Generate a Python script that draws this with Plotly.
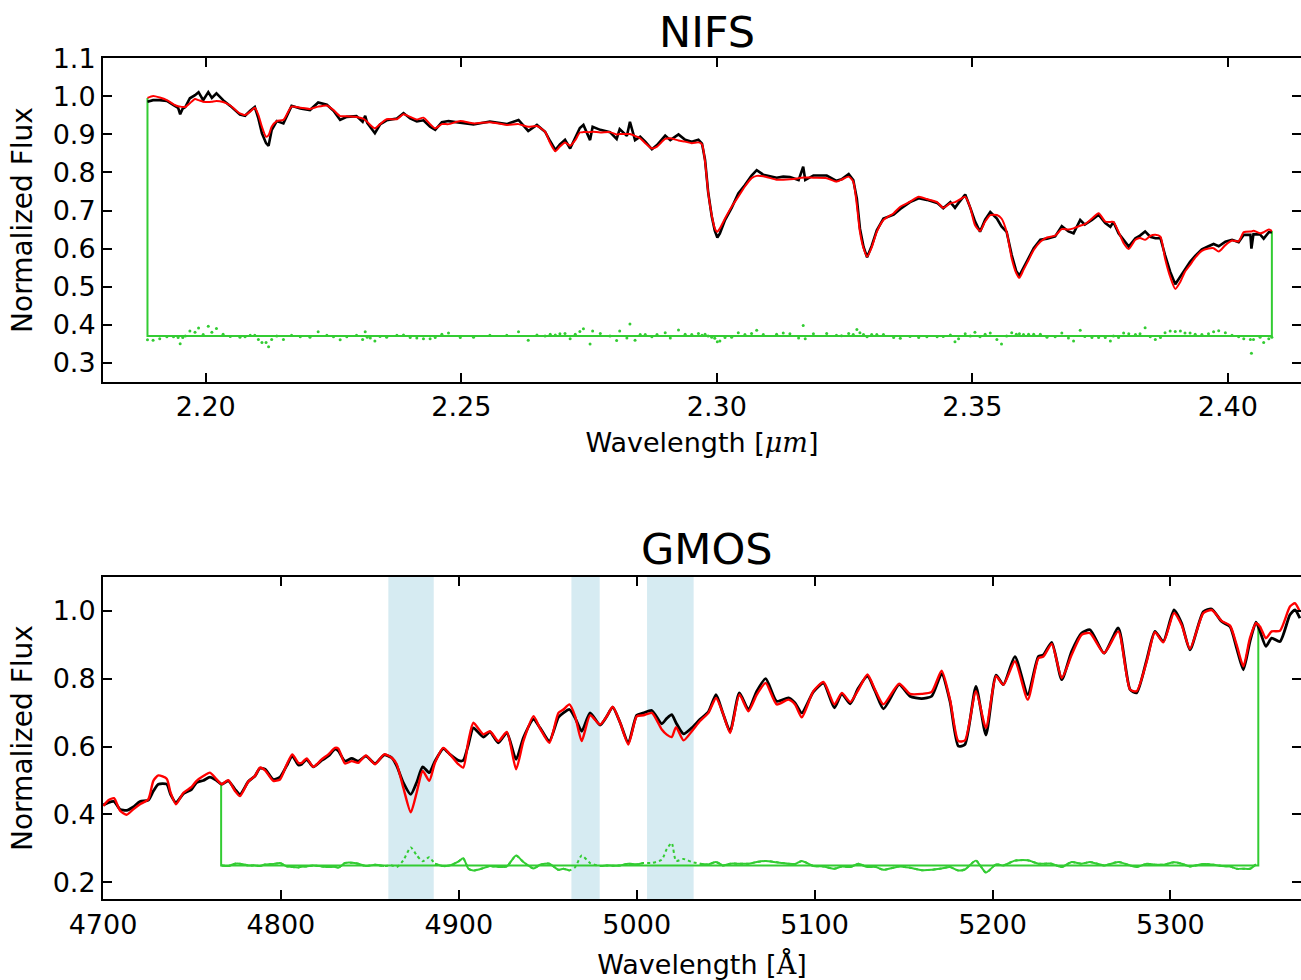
import plotly.graph_objects as go

# ---------------- NIFS (top) ----------------
nifs_wave = [2.1886, 2.1897, 2.1910, 2.1924, 2.1937, 2.1946, 2.1950, 2.1955, 2.1960, 2.1969,
             2.1979, 2.1986, 2.1995, 2.2005, 2.2012, 2.2021, 2.2034, 2.2048, 2.2067, 2.2077,
             2.2087, 2.2096, 2.2103, 2.2110, 2.2118, 2.2123, 2.2129, 2.2139, 2.2152, 2.2168,
             2.2185, 2.2204, 2.2220, 2.2237, 2.2250, 2.2263, 2.2276, 2.2295, 2.2307, 2.2312,
             2.2316, 2.2322, 2.2331, 2.2341, 2.2354, 2.2374, 2.2387, 2.2400, 2.2413, 2.2426,
             2.2439, 2.2449, 2.2462, 2.2475, 2.2498, 2.2524, 2.2556, 2.2589, 2.2612, 2.2631,
             2.2648, 2.2664, 2.2674, 2.2684, 2.2693, 2.2703, 2.2713, 2.2723, 2.2732, 2.2739,
             2.2752, 2.2757, 2.2772, 2.2791, 2.2804, 2.2810, 2.2824, 2.2830, 2.2840, 2.2850,
             2.2860, 2.2873, 2.2883, 2.2899, 2.2909, 2.2925, 2.2938, 2.2951, 2.2964, 2.2971,
             2.2977, 2.2983, 2.2990, 2.2996, 2.3001, 2.3006, 2.3016, 2.3029, 2.3042, 2.3055,
             2.3068, 2.3078, 2.3091, 2.3117, 2.3130, 2.3143, 2.3160, 2.3169, 2.3173, 2.3189,
             2.3215, 2.3234, 2.3244, 2.3258, 2.3267, 2.3274, 2.3280, 2.3287, 2.3294, 2.3303,
             2.3313, 2.3326, 2.3346, 2.3359, 2.3378, 2.3395, 2.3411, 2.3431, 2.3443, 2.3457,
             2.3466, 2.3473, 2.3486, 2.3496, 2.3505, 2.3515, 2.3525, 2.3535, 2.3548, 2.3557,
             2.3567, 2.3577, 2.3586, 2.3592, 2.3600, 2.3610, 2.3620, 2.3633, 2.3646, 2.3662,
             2.3675, 2.3688, 2.3698, 2.3711, 2.3720, 2.3734, 2.3747, 2.3760, 2.3770, 2.3776,
             2.3786, 2.3796, 2.3806, 2.3819, 2.3828, 2.3838, 2.3848, 2.3858, 2.3868, 2.3877,
             2.3887, 2.3897, 2.3907, 2.3916, 2.3926, 2.3936, 2.3949, 2.3962, 2.3972, 2.3982,
             2.3995, 2.4008, 2.4021, 2.4031, 2.4044, 2.4046, 2.4050, 2.4063, 2.4070, 2.4080,
             2.4086]
nifs_obs = [0.986, 0.990, 0.990, 0.988, 0.977, 0.970, 0.953, 0.968, 0.972, 0.995,
            1.003, 1.011, 0.990, 1.011, 0.996, 1.008, 0.990, 0.975, 0.952, 0.949,
            0.962, 0.972, 0.942, 0.903, 0.877, 0.870, 0.911, 0.935, 0.929, 0.975,
            0.968, 0.964, 0.984, 0.978, 0.962, 0.938, 0.946, 0.948, 0.933, 0.949,
            0.930, 0.920, 0.903, 0.926, 0.937, 0.942, 0.956, 0.942, 0.934, 0.937,
            0.920, 0.912, 0.932, 0.935, 0.931, 0.926, 0.934, 0.927, 0.938, 0.909,
            0.925, 0.907, 0.882, 0.859, 0.874, 0.886, 0.863, 0.890, 0.917, 0.925,
            0.885, 0.920, 0.912, 0.906, 0.888, 0.914, 0.896, 0.933, 0.885, 0.894,
            0.881, 0.861, 0.872, 0.897, 0.885, 0.900, 0.886, 0.881, 0.886, 0.876,
            0.833, 0.749, 0.685, 0.647, 0.629, 0.640, 0.675, 0.707, 0.745, 0.767,
            0.792, 0.806, 0.794, 0.786, 0.789, 0.788, 0.780, 0.815, 0.780, 0.792,
            0.792, 0.778, 0.782, 0.796, 0.780, 0.731, 0.653, 0.605, 0.577, 0.607,
            0.648, 0.679, 0.689, 0.704, 0.722, 0.732, 0.728, 0.720, 0.706, 0.722,
            0.707, 0.720, 0.742, 0.707, 0.672, 0.644, 0.676, 0.696, 0.679, 0.658,
            0.644, 0.583, 0.540, 0.529, 0.548, 0.575, 0.601, 0.623, 0.626, 0.632,
            0.659, 0.645, 0.640, 0.675, 0.663, 0.675, 0.689, 0.667, 0.657, 0.670,
            0.640, 0.622, 0.605, 0.627, 0.634, 0.645, 0.631, 0.627, 0.627, 0.583,
            0.539, 0.506, 0.526, 0.547, 0.565, 0.581, 0.598, 0.606, 0.612, 0.606,
            0.618, 0.623, 0.617, 0.636, 0.636, 0.600, 0.638, 0.637, 0.626, 0.643,
            0.643]
nifs_model = [0.996, 1.001, 0.997, 0.990, 0.979, 0.974, 0.973, 0.972, 0.972, 0.982,
              0.993, 0.990, 0.986, 0.985, 0.986, 0.988, 0.985, 0.976, 0.955, 0.951,
              0.960, 0.970, 0.951, 0.920, 0.894, 0.898, 0.920, 0.935, 0.938, 0.973,
              0.970, 0.967, 0.973, 0.976, 0.964, 0.948, 0.948, 0.946, 0.942, 0.938,
              0.933, 0.925, 0.916, 0.927, 0.940, 0.940, 0.953, 0.946, 0.939, 0.944,
              0.927, 0.916, 0.927, 0.927, 0.935, 0.929, 0.932, 0.925, 0.927, 0.920,
              0.922, 0.907, 0.877, 0.856, 0.868, 0.879, 0.870, 0.885, 0.905, 0.906,
              0.906, 0.907, 0.905, 0.906, 0.900, 0.901, 0.901, 0.901, 0.896, 0.890,
              0.877, 0.863, 0.868, 0.888, 0.890, 0.884, 0.881, 0.877, 0.879, 0.874,
              0.828, 0.749, 0.688, 0.653, 0.644, 0.653, 0.679, 0.710, 0.736, 0.763,
              0.785, 0.791, 0.790, 0.781, 0.781, 0.782, 0.785, 0.787, 0.787, 0.786,
              0.785, 0.776, 0.781, 0.789, 0.776, 0.714, 0.644, 0.601, 0.579, 0.603,
              0.644, 0.675, 0.693, 0.710, 0.723, 0.736, 0.730, 0.722, 0.707, 0.719,
              0.722, 0.727, 0.736, 0.707, 0.662, 0.646, 0.671, 0.688, 0.688, 0.679,
              0.644, 0.574, 0.535, 0.523, 0.544, 0.570, 0.596, 0.618, 0.629, 0.634,
              0.651, 0.650, 0.653, 0.660, 0.664, 0.679, 0.693, 0.671, 0.670, 0.670,
              0.644, 0.614, 0.599, 0.623, 0.628, 0.623, 0.633, 0.636, 0.631, 0.574,
              0.526, 0.494, 0.513, 0.539, 0.557, 0.576, 0.594, 0.600, 0.601, 0.592,
              0.609, 0.621, 0.619, 0.643, 0.645, 0.645, 0.647, 0.640, 0.643, 0.650,
              0.646]
nifs_offset = 0.37
nifs_box_x = [2.1886, 2.1886, 2.4086, 2.4086]
nifs_box_y = [0.996, 0.37, 0.37, 0.646]
nifs_xticks = [2.20, 2.25, 2.30, 2.35, 2.40]
nifs_yticks = [0.3, 0.4, 0.5, 0.6, 0.7, 0.8, 0.9, 1.0, 1.1]

# ---------------- GMOS (bottom) ----------------
gmos_wave = [4700.2, 4703.0, 4706.2, 4709.6, 4713.3, 4717.0, 4720.8, 4725.5, 4728.3, 4731.1,
             4735.8, 4738.0, 4741.0, 4745.2, 4749.8, 4752.6, 4756.4, 4760.1, 4763.9, 4766.7,
             4770.4, 4774.2, 4777.0, 4781.7, 4785.4, 4788.2, 4791.1, 4795.7, 4799.5, 4803.2,
             4806.4, 4809.8, 4811.7, 4814.5, 4818.2, 4822.9, 4826.7, 4830.4, 4832.3, 4836.0,
             4839.8, 4843.5, 4847.8, 4852.9, 4858.0, 4862.3, 4865.1, 4868.8, 4873.0, 4876.3,
             4879.7, 4883.4, 4886.6, 4891.3, 4895.0, 4899.7, 4902.5, 4905.4, 4908.2, 4913.8,
             4917.5, 4922.2, 4927.0, 4932.2, 4936.3, 4942.0, 4945.7, 4950.9, 4956.0, 4958.8,
             4962.2, 4965.4, 4969.1, 4973.8, 4979.4, 4983.2, 4986.5, 4990.7, 4995.3, 5000.0,
             5003.8, 5008.5, 5014.1, 5016.9, 5019.7, 5022.1, 5026.3, 5031.0, 5035.6, 5040.3,
             5044.6, 5048.4, 5052.5, 5057.7, 5062.8, 5067.5, 5072.5, 5078.7, 5085.3, 5089.0,
             5092.8, 5099.3, 5105.0, 5111.1, 5115.3, 5120.0, 5124.6, 5129.7, 5134.0, 5138.7,
             5147.5, 5153.6, 5160.2, 5165.8, 5171.4, 5176.1, 5180.8, 5184.5, 5190.7, 5196.3,
             5202.0, 5206.1, 5212.6, 5219.8, 5225.8, 5228.6, 5233.3, 5238.9, 5244.5, 5250.1,
             5254.8, 5262.7, 5270.7, 5277.3, 5281.0, 5286.7, 5291.3, 5296.0, 5302.0, 5306.3,
             5311.0, 5318.5, 5323.2, 5328.8, 5333.5, 5337.2, 5341.0, 5344.7, 5348.1, 5350.4,
             5353.7, 5356.9, 5361.6, 5367.2, 5370.0, 5372.8]
gmos_obs = [0.428, 0.435, 0.438, 0.415, 0.412, 0.422, 0.438, 0.442, 0.469, 0.489,
            0.489, 0.459, 0.435, 0.461, 0.474, 0.494, 0.500, 0.510, 0.500, 0.489,
            0.499, 0.474, 0.459, 0.497, 0.513, 0.536, 0.533, 0.503, 0.510, 0.543,
            0.572, 0.546, 0.548, 0.562, 0.540, 0.559, 0.572, 0.592, 0.587, 0.557,
            0.565, 0.557, 0.572, 0.550, 0.575, 0.567, 0.543, 0.494, 0.459, 0.494,
            0.540, 0.523, 0.557, 0.594, 0.577, 0.559, 0.559, 0.606, 0.655, 0.628,
            0.643, 0.611, 0.640, 0.562, 0.626, 0.680, 0.655, 0.616, 0.686, 0.699,
            0.709, 0.684, 0.645, 0.699, 0.663, 0.689, 0.716, 0.670, 0.611, 0.692,
            0.699, 0.706, 0.667, 0.683, 0.694, 0.670, 0.637, 0.655, 0.680, 0.702,
            0.753, 0.699, 0.645, 0.758, 0.709, 0.763, 0.800, 0.733, 0.743, 0.728,
            0.699, 0.761, 0.787, 0.714, 0.755, 0.726, 0.772, 0.807, 0.763, 0.711,
            0.782, 0.748, 0.741, 0.748, 0.814, 0.733, 0.601, 0.606, 0.777, 0.634,
            0.810, 0.782, 0.865, 0.753, 0.865, 0.870, 0.907, 0.797, 0.880, 0.934,
            0.944, 0.875, 0.949, 0.768, 0.758, 0.856, 0.939, 0.909, 1.002, 0.963,
            0.885, 0.997, 1.005, 0.968, 0.953, 0.890, 0.826, 0.909, 0.966, 0.939,
            0.895, 0.919, 0.909, 0.988, 1.002, 0.978]
gmos_model = [0.425, 0.442, 0.448, 0.411, 0.399, 0.415, 0.430, 0.445, 0.499, 0.515,
              0.505, 0.464, 0.430, 0.464, 0.481, 0.499, 0.513, 0.523, 0.503, 0.489,
              0.501, 0.469, 0.454, 0.497, 0.513, 0.538, 0.530, 0.499, 0.503, 0.546,
              0.577, 0.552, 0.552, 0.565, 0.540, 0.562, 0.577, 0.596, 0.594, 0.550,
              0.557, 0.552, 0.574, 0.548, 0.577, 0.567, 0.548, 0.479, 0.406, 0.464,
              0.528, 0.499, 0.552, 0.596, 0.577, 0.548, 0.538, 0.616, 0.670, 0.636,
              0.645, 0.616, 0.643, 0.533, 0.616, 0.689, 0.653, 0.611, 0.699, 0.709,
              0.724, 0.689, 0.616, 0.692, 0.665, 0.689, 0.717, 0.670, 0.606, 0.689,
              0.692, 0.699, 0.650, 0.635, 0.628, 0.657, 0.618, 0.645, 0.675, 0.699,
              0.743, 0.699, 0.640, 0.753, 0.704, 0.753, 0.787, 0.724, 0.738, 0.724,
              0.686, 0.763, 0.790, 0.724, 0.758, 0.731, 0.767, 0.812, 0.767, 0.724,
              0.785, 0.755, 0.755, 0.761, 0.823, 0.738, 0.616, 0.618, 0.763, 0.655,
              0.807, 0.782, 0.851, 0.738, 0.860, 0.865, 0.902, 0.802, 0.870, 0.929,
              0.934, 0.875, 0.939, 0.768, 0.763, 0.851, 0.937, 0.907, 0.993, 0.958,
              0.888, 0.993, 1.002, 0.970, 0.956, 0.900, 0.836, 0.919, 0.963, 0.953,
              0.919, 0.939, 0.941, 1.012, 1.022, 0.997]
gmos_offset = 0.25
gmos_fit_range = [4766.4, 5349.4]
gmos_box_x = [4766.4, 4766.4, 5349.4, 5349.4]
gmos_box_y = [0.489, 0.25, 0.25, 0.963]
gmos_mask_lo = [4860.4, 4963.3, 5005.8]
gmos_mask_hi = [4885.9, 4979.2, 5032.0]
gmos_xticks = [4700, 4800, 4900, 5000, 5100, 5200, 5300]
gmos_yticks = [0.2, 0.4, 0.6, 0.8, 1.0]

# ---------------- derived residuals ----------------
nifs_res = [o - m + nifs_offset for o, m in zip(nifs_obs, nifs_model)]

g_res_wave, g_res_solid, g_res_all = [], [], []
for w, o, m in zip(gmos_wave, gmos_obs, gmos_model):
    if gmos_fit_range[0] <= w <= gmos_fit_range[1]:
        r = o - m + gmos_offset
        masked = any(lo <= w <= hi for lo, hi in zip(gmos_mask_lo, gmos_mask_hi))
        g_res_wave.append(w)
        g_res_all.append(r)
        g_res_solid.append(None if masked else r)

GREEN = "#33cc33"
FONT = "DejaVu Sans"

fig = go.Figure()

# top
fig.add_trace(go.Scatter(x=nifs_box_x, y=nifs_box_y, mode="lines",
                         line=dict(color=GREEN, width=2), xaxis="x", yaxis="y", showlegend=False))
fig.add_trace(go.Scatter(x=nifs_wave, y=nifs_res, mode="markers",
                         marker=dict(color=GREEN, size=3), xaxis="x", yaxis="y", showlegend=False))
fig.add_trace(go.Scatter(x=nifs_wave, y=nifs_obs, mode="lines",
                         line=dict(color="black", width=2.6), xaxis="x", yaxis="y", showlegend=False))
fig.add_trace(go.Scatter(x=nifs_wave, y=nifs_model, mode="lines", line_shape="spline",
                         line=dict(color="red", width=2, smoothing=0.6), xaxis="x", yaxis="y",
                         showlegend=False))

# bottom
fig.add_trace(go.Scatter(x=gmos_box_x, y=gmos_box_y, mode="lines",
                         line=dict(color=GREEN, width=2), xaxis="x2", yaxis="y2", showlegend=False))
fig.add_trace(go.Scatter(x=g_res_wave, y=g_res_all, mode="lines", line_shape="spline",
                         line=dict(color=GREEN, width=2, dash="dot", smoothing=0.6),
                         xaxis="x2", yaxis="y2", showlegend=False))
fig.add_trace(go.Scatter(x=g_res_wave, y=g_res_solid, mode="lines", line_shape="spline",
                         line=dict(color=GREEN, width=2, smoothing=0.6),
                         xaxis="x2", yaxis="y2", showlegend=False))
fig.add_trace(go.Scatter(x=gmos_wave, y=gmos_obs, mode="lines", line_shape="spline",
                         line=dict(color="black", width=2.8, smoothing=0.6),
                         xaxis="x2", yaxis="y2", showlegend=False))
fig.add_trace(go.Scatter(x=gmos_wave, y=gmos_model, mode="lines", line_shape="spline",
                         line=dict(color="red", width=2.4, smoothing=0.6),
                         xaxis="x2", yaxis="y2", showlegend=False))

for lo, hi in zip(gmos_mask_lo, gmos_mask_hi):
    fig.add_shape(type="rect", x0=lo, x1=hi, xref="x2", yref="y2 domain", y0=0, y1=1,
                  fillcolor="lightblue", opacity=0.5, line_width=0, layer="below")

axis_common = dict(showline=True, linecolor="black", linewidth=2, mirror="ticks",
                   ticks="inside", ticklen=9, tickwidth=1.5, tickcolor="black",
                   showgrid=False, zeroline=False, automargin=False,
                   tickfont=dict(family=FONT, size=27, color="black"))

fig.update_layout(
    template="none",
    width=1301, height=980,
    margin=dict(l=103, r=0, t=0, b=0, autoexpand=False),
    paper_bgcolor="white", plot_bgcolor="white",
    font=dict(family=FONT, color="black"),
    xaxis=dict(domain=[0, 1], range=[2.1799, 2.4143], anchor="y",
               tickvals=nifs_xticks, tickformat=".2f",
               title=dict(text='Wavelength [<span style="font-family:DejaVu Serif"><i>μm</i></span>]',
                          font=dict(family=FONT, size=27), standoff=12),
               **axis_common),
    yaxis=dict(domain=[0.6105, 0.9405], range=[0.25, 1.1], anchor="x",
               tickvals=nifs_yticks, tickformat=".1f",
               title=dict(text="Normalized Flux", font=dict(family=FONT, size=28), standoff=12),
               **axis_common),
    xaxis2=dict(domain=[0, 1], range=[4700, 5373.4], anchor="y2",
                tickvals=gmos_xticks, tickformat="d",
                title=dict(text='Wavelength [<span style="font-family:DejaVu Serif">Å</span>]',
                           font=dict(family=FONT, size=27), standoff=16),
                **axis_common),
    yaxis2=dict(domain=[0.0823, 0.4115], range=[0.15, 1.1], anchor="x2",
                tickvals=gmos_yticks, tickformat=".1f",
                title=dict(text="Normalized Flux", font=dict(family=FONT, size=28), standoff=12),
                **axis_common),
    annotations=[
        dict(text="NIFS", x=0.504, y=1 - 32 / 980, xref="paper", yref="paper",
             xanchor="center", yanchor="middle", showarrow=False,
             font=dict(family=FONT, size=43, color="black")),
        dict(text="GMOS", x=0.504, y=1 - 549 / 980, xref="paper", yref="paper",
             xanchor="center", yanchor="middle", showarrow=False,
             font=dict(family=FONT, size=43, color="black")),
    ],
)

fig.write_html(
    "out.html",
    config={"displayModeBar": False},
    post_script="document.body.style.margin='0';"
                "document.documentElement.style.overflow='hidden';"
                "document.body.style.overflow='hidden';",
)
